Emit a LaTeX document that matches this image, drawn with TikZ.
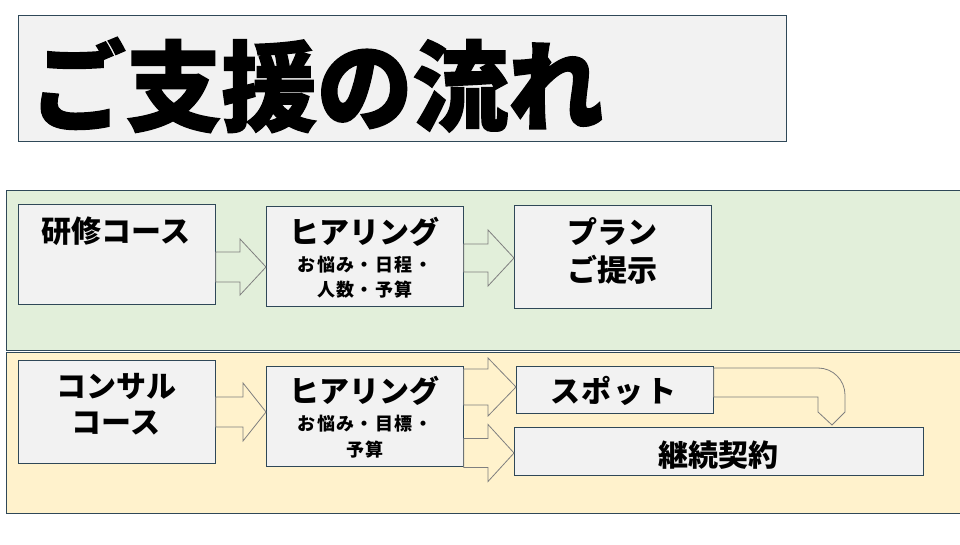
\documentclass[tikz,border=0pt]{standalone}
\usepackage{fontspec}
\setmainfont{Noto Sans CJK JP}
\newfontfamily\jptitle{Noto Sans CJK JP}[FakeBold=1.5]
\newfontfamily\jpsp{Noto Sans CJK JP}[LetterSpace=8]
\usetikzlibrary{calc}
\definecolor{edgec}{HTML}{2F4858}
\definecolor{boxfill}{HTML}{F2F2F2}
\definecolor{greenp}{HTML}{E2EFDA}
\definecolor{yellowp}{HTML}{FFF2CC}
\definecolor{arrc}{HTML}{7F7F7F}
\tikzset{
  panel/.style={draw=edgec, line width=0.8pt},
  box/.style={draw=edgec, fill=boxfill, line width=0.8pt, inner sep=0pt, minimum width=#1},
  bigt/.style={font=\bfseries\fontsize{30}{32}\selectfont, inner sep=0pt},
  subt/.style={font=\bfseries\jpsp\fontsize{18}{20}\selectfont, inner sep=0pt},
  arr/.style={draw=arrc, line width=0.8pt, line join=miter},
}
\newcommand\barrow[7]{% from, to, y-center, shaft half, head half, head start x, fill
  \draw[arr, fill=#7] (#1.east |- 0,{#3-#4}) -- (#6,{#3-#4}) -- (#6,{#3-#5}) -- (#2.west |- 0,#3)
    -- (#6,{#3+#5}) -- (#6,{#3+#4}) -- (#1.east |- 0,{#3+#4}) -- cycle;}
\begin{document}
\begin{tikzpicture}[x=1pt,y=-1pt]
\useasboundingbox (0,0) rectangle (960,545);
\fill[white] (0,0) rectangle (960,545);
\begin{scope}
\clip (0,0) rectangle (960,545);
% title
\node[box=768pt, minimum height=126pt, anchor=north west] (title) at (18,15) {};
\node[inner sep=0pt, font=\jptitle\bfseries\fontsize{98}{100}\selectfont] (titletext) at (317,85) {\scalebox{0.975}[1]{ご支援の流れ}};
% panels
\draw[panel, fill=greenp] (6,190) rectangle (965,350);
\draw[panel, fill=yellowp] (6,352) rectangle (965,513);
\end{scope}
% boxes row 1
\node[box=197pt, minimum height=100pt, anchor=north west] (k1) at (18,204) {};
\node[box=197pt, minimum height=100pt, anchor=north west] (h1) at (266,206) {};
\node[box=197pt, minimum height=103pt, anchor=north west] (p1) at (514,205) {};
% boxes row 2
\node[box=197pt, minimum height=103pt, anchor=north west] (c2) at (18,360) {};
\node[box=197pt, minimum height=100pt, anchor=north west] (h2) at (266,366) {};
\node[box=197pt, minimum height=47pt, anchor=north west] (s2) at (516,366) {};
\node[box=409pt, minimum height=48pt, anchor=north west] (k2) at (514,427) {};
% texts
\node[bigt] (k1t) at (116,231) {研修コース};
\node[bigt] (h1t) at (364,232) {ヒアリング};
\node[subt] (h1s1) at (365,265) {お悩み・日程・};
\node[subt] (h1s2) at (365,290) {人数・予算};
\node[bigt] (p1t1) at (612,232) {プラン};
\node[bigt] (p1t2) at (612,270) {ご提示};
\node[bigt] (c2t1) at (116,387) {コンサル};
\node[bigt] (c2t2) at (116,423) {コース};
\node[bigt] (h2t) at (364,391) {ヒアリング};
\node[subt] (h2s1) at (365,424) {お悩み・目標・};
\node[subt] (h2s2) at (365,450) {予算};
\node[bigt] (s2t) at (613,391) {ス\kern2ptポ\kern2ptッ\kern2ptト};
\node[bigt] (k2t) at (718,455) {継続契約};
% block arrows
\barrow{k1}{h1}{267}{15}{28}{240}{greenp}
\barrow{h1}{p1}{258}{14}{28}{488}{greenp}
\barrow{c2}{h2}{412}{15}{29}{243}{yellowp}
\barrow{h2}{s2}{387}{18}{29}{488}{yellowp}
\barrow{h2}{k2}{453}{14.5}{28.5}{488}{yellowp}
% U-turn arrow
\coordinate (utip) at (832,425);
\draw[arr, fill=yellowp] (s2.east |- 0,368) -- (818,368) arc[start angle=-90, end angle=0, radius=27]
  -- (845,412) -- (utip) -- (818,412) -- (818,397) -- (s2.east |- 0,397) -- cycle;
\end{tikzpicture}
\end{document}
